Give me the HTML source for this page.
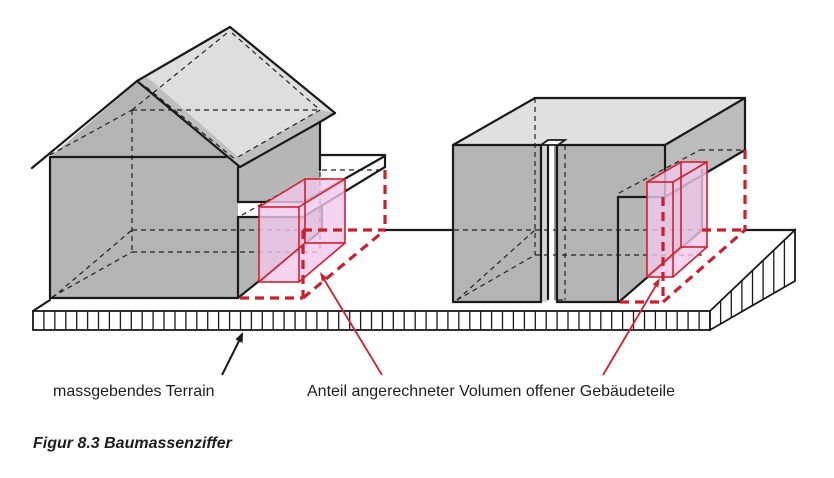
<!DOCTYPE html>
<html><head><meta charset="utf-8"><style>
html,body{margin:0;padding:0;background:#fff;}
svg{display:block;}
text{font-family:"Liberation Sans",Arial,sans-serif;}
</style></head><body>
<svg width="834" height="478" viewBox="0 0 834 478" xmlns="http://www.w3.org/2000/svg">
<rect width="834" height="478" fill="#fff"/>

<!-- platform top -->
<polygon points="33,311 132,230 795,230 710,311" fill="#fff"/>

<!-- ================= LEFT HOUSE ================= -->
<!-- front wall + gable -->
<polygon points="50,298 50,157 137,82 238,167 238,298" fill="#b4b4b4"/>
<!-- upper side region -->
<polygon points="238,167 320,122 320,192 302,202 238,202" fill="#b6b6b6"/>
<!-- lower side wall -->
<polygon points="238,217 303,217 322,206 322,230 238,298" fill="#b6b6b6"/>
<!-- slab -->
<polygon points="320,155 385,155 385,167 303,217 238,217 238,202 302,202 320,192" fill="#fff"/>
<!-- roof -->
<polygon points="137,81 230,27 335,113 320,122 240,167" fill="#bfbfbf"/>
<polygon points="146,76 230,27 335,113 320,110 238,157" fill="#dedede"/>

<!-- hidden dashed lines left -->
<g stroke="#222" stroke-width="1.2" stroke-dasharray="5,4" fill="none">
  <line x1="50" y1="155" x2="132" y2="110"/>
  <line x1="132" y1="110" x2="227" y2="33"/>
  <line x1="232" y1="33" x2="320" y2="110"/>
  <line x1="132" y1="110" x2="320" y2="110"/>
  <line x1="238" y1="157" x2="320" y2="110"/>
  <line x1="146" y1="87" x2="236" y2="160"/>
  <line x1="132" y1="110" x2="132" y2="252"/>
  <line x1="132" y1="252" x2="322" y2="252"/>
  <line x1="52" y1="297" x2="132" y2="252"/>
  <line x1="52" y1="298" x2="132" y2="230"/>
  <line x1="132" y1="230" x2="303" y2="230"/>
  <line x1="320" y1="172" x2="320" y2="252"/>
  <line x1="322" y1="170" x2="385" y2="170"/>
  <line x1="242" y1="215" x2="305" y2="180"/>
</g>

<!-- solid lines left house -->
<g stroke="#1a1a1a" stroke-width="2.2" fill="none" stroke-linecap="round">
  <line x1="32" y1="168" x2="137" y2="81"/>
  <line x1="137" y1="81" x2="230" y2="27"/>
  <line x1="230" y1="27" x2="335" y2="113"/>
  <line x1="335" y1="113" x2="320" y2="122"/>
  <line x1="320" y1="122" x2="240" y2="167"/>
  <line x1="137" y1="81" x2="240" y2="167"/>
  <line x1="50" y1="157" x2="50" y2="298"/>
  <line x1="50" y1="298" x2="238" y2="298"/>
  <line x1="50" y1="157" x2="226" y2="157"/>
  <line x1="238" y1="167" x2="238" y2="202"/>
  <line x1="238" y1="217" x2="238" y2="298"/>
  <line x1="238" y1="202" x2="302" y2="202"/>
  <line x1="320" y1="122" x2="320" y2="170"/>
  <line x1="320" y1="155" x2="385" y2="155"/>
  <line x1="385" y1="155" x2="385" y2="167"/>
  <line x1="385" y1="156" x2="302" y2="203"/>
  <line x1="385" y1="167" x2="303" y2="217"/>
  <line x1="238" y1="217" x2="303" y2="217"/>
  <line x1="238" y1="298" x2="322" y2="230"/>
  <line x1="322" y1="206" x2="322" y2="230"/>
  <line x1="33" y1="311" x2="50" y2="300"/>
  <line x1="385" y1="230" x2="454" y2="230"/>
</g>

<!-- ================= RIGHT BUILDING ================= -->
<polygon points="453,145 535,98 745,98 665,145" fill="#e0e0e0"/>
<polygon points="453,145 665,145 665,197 618,197 618,302 453,302" fill="#b4b4b4"/>
<polygon points="665,145 745,98 745,150 665,197" fill="#bcbcbc"/>
<polygon points="618,197 665,197 702,176 702,230 620,301" fill="#b6b6b6"/>
<rect x="541" y="145" width="16" height="157" fill="#fff"/>
<rect x="541" y="145" width="7" height="157" fill="#d6d6d6"/>

<g stroke="#222" stroke-width="1.2" stroke-dasharray="5,4" fill="none">
  <line x1="535" y1="98" x2="535" y2="255"/>
  <line x1="535" y1="255" x2="702" y2="255"/>
  <line x1="454" y1="230" x2="702" y2="230"/>
  <line x1="457" y1="300" x2="535" y2="230"/>
  <line x1="457" y1="300" x2="535" y2="255"/>
  <line x1="565" y1="145" x2="565" y2="300"/>
  <line x1="558" y1="300" x2="565" y2="300"/>
  <line x1="619" y1="193" x2="700" y2="150"/>
  <line x1="700" y1="150" x2="745" y2="150"/>
</g>

<g stroke="#1a1a1a" stroke-width="2.2" fill="none" stroke-linecap="round">
  <line x1="453" y1="145" x2="535" y2="98"/>
  <line x1="535" y1="98" x2="745" y2="98"/>
  <line x1="745" y1="98" x2="665" y2="145"/>
  <line x1="453" y1="145" x2="541" y2="145"/>
  <line x1="557" y1="145" x2="665" y2="145"/>
  <line x1="453" y1="145" x2="453" y2="302"/>
  <line x1="453" y1="302" x2="541" y2="302"/>
  <line x1="557" y1="302" x2="620" y2="302"/>
  <line x1="541" y1="145" x2="541" y2="302"/>
  <line x1="548" y1="142" x2="548" y2="299"/>
  <line x1="557" y1="143" x2="557" y2="302"/>
  <line x1="665" y1="145" x2="665" y2="197"/>
  <line x1="618" y1="197" x2="665" y2="197"/>
  <line x1="618" y1="197" x2="618" y2="302"/>
  <line x1="745" y1="98" x2="745" y2="150"/>
  <line x1="745" y1="150" x2="665" y2="197"/>
  <line x1="702" y1="170" x2="702" y2="230"/>
  <line x1="620" y1="301" x2="702" y2="230"/>
  <line x1="745" y1="230" x2="795" y2="230"/>
</g>
<line x1="555" y1="145" x2="555" y2="300" stroke="#333" stroke-width="1"/>
<polygon points="541,145 548,140 565,140 558,145" fill="#fff" stroke="#1a1a1a" stroke-width="1.8"/>

<!-- ================= TERRAIN BASE ================= -->
<rect x="33" y="311" width="677" height="19" fill="#fff" stroke="#1a1a1a" stroke-width="1.8"/>
<g stroke="#1a1a1a" stroke-width="1.3">
<line x1="43.9" y1="311" x2="43.9" y2="330"/><line x1="54.8" y1="311" x2="54.8" y2="330"/><line x1="65.8" y1="311" x2="65.8" y2="330"/><line x1="76.7" y1="311" x2="76.7" y2="330"/><line x1="87.6" y1="311" x2="87.6" y2="330"/><line x1="98.5" y1="311" x2="98.5" y2="330"/><line x1="109.4" y1="311" x2="109.4" y2="330"/><line x1="120.4" y1="311" x2="120.4" y2="330"/><line x1="131.3" y1="311" x2="131.3" y2="330"/><line x1="142.2" y1="311" x2="142.2" y2="330"/>
<line x1="153.1" y1="311" x2="153.1" y2="330"/><line x1="164" y1="311" x2="164" y2="330"/><line x1="175" y1="311" x2="175" y2="330"/><line x1="185.9" y1="311" x2="185.9" y2="330"/><line x1="196.8" y1="311" x2="196.8" y2="330"/><line x1="207.7" y1="311" x2="207.7" y2="330"/><line x1="218.6" y1="311" x2="218.6" y2="330"/><line x1="229.6" y1="311" x2="229.6" y2="330"/><line x1="240.5" y1="311" x2="240.5" y2="330"/><line x1="251.4" y1="311" x2="251.4" y2="330"/>
<line x1="262.3" y1="311" x2="262.3" y2="330"/><line x1="273.2" y1="311" x2="273.2" y2="330"/><line x1="284.1" y1="311" x2="284.1" y2="330"/><line x1="295.1" y1="311" x2="295.1" y2="330"/><line x1="306" y1="311" x2="306" y2="330"/><line x1="316.9" y1="311" x2="316.9" y2="330"/><line x1="327.8" y1="311" x2="327.8" y2="330"/><line x1="338.7" y1="311" x2="338.7" y2="330"/><line x1="349.7" y1="311" x2="349.7" y2="330"/><line x1="360.6" y1="311" x2="360.6" y2="330"/>
<line x1="371.5" y1="311" x2="371.5" y2="330"/><line x1="382.4" y1="311" x2="382.4" y2="330"/><line x1="393.3" y1="311" x2="393.3" y2="330"/><line x1="404.2" y1="311" x2="404.2" y2="330"/><line x1="415.2" y1="311" x2="415.2" y2="330"/><line x1="426.1" y1="311" x2="426.1" y2="330"/><line x1="437" y1="311" x2="437" y2="330"/><line x1="447.9" y1="311" x2="447.9" y2="330"/><line x1="458.8" y1="311" x2="458.8" y2="330"/><line x1="469.8" y1="311" x2="469.8" y2="330"/>
<line x1="480.7" y1="311" x2="480.7" y2="330"/><line x1="491.6" y1="311" x2="491.6" y2="330"/><line x1="502.5" y1="311" x2="502.5" y2="330"/><line x1="513.4" y1="311" x2="513.4" y2="330"/><line x1="524.4" y1="311" x2="524.4" y2="330"/><line x1="535.3" y1="311" x2="535.3" y2="330"/><line x1="546.2" y1="311" x2="546.2" y2="330"/><line x1="557.1" y1="311" x2="557.1" y2="330"/><line x1="568" y1="311" x2="568" y2="330"/><line x1="579" y1="311" x2="579" y2="330"/>
<line x1="589.9" y1="311" x2="589.9" y2="330"/><line x1="600.8" y1="311" x2="600.8" y2="330"/><line x1="611.7" y1="311" x2="611.7" y2="330"/><line x1="622.6" y1="311" x2="622.6" y2="330"/><line x1="633.5" y1="311" x2="633.5" y2="330"/><line x1="644.5" y1="311" x2="644.5" y2="330"/><line x1="655.4" y1="311" x2="655.4" y2="330"/><line x1="666.3" y1="311" x2="666.3" y2="330"/><line x1="677.2" y1="311" x2="677.2" y2="330"/><line x1="688.1" y1="311" x2="688.1" y2="330"/><line x1="699.1" y1="311" x2="699.1" y2="330"/>
</g>
<polygon points="710,311 795,230 795,281 710,330" fill="#fff" stroke="#1a1a1a" stroke-width="1.8"/>
<g stroke="#1a1a1a" stroke-width="1.3">
<line x1="720.6" y1="300.9" x2="720.6" y2="323.9"/>
<line x1="731.3" y1="290.7" x2="731.3" y2="317.7"/>
<line x1="741.9" y1="280.6" x2="741.9" y2="311.6"/>
<line x1="752.5" y1="270.5" x2="752.5" y2="305.5"/>
<line x1="763.1" y1="260.4" x2="763.1" y2="299.4"/>
<line x1="773.8" y1="250.2" x2="773.8" y2="293.3"/>
<line x1="784.4" y1="240.1" x2="784.4" y2="287.1"/>
</g>

<!-- ================= PINK VOLUMES ================= -->
<g fill="#f0c8ec" fill-opacity="0.8" stroke="none">
  <polygon points="259,207 305,179 345,179 345,243 299,282 259,282"/>
  <polygon points="647,182 681,162 707,162 707,247 673,277 647,277"/>
</g>
<g stroke="#d3202c" stroke-width="1.6" fill="none">
  <rect x="305" y="179" width="40" height="64"/>
  <rect x="259" y="207" width="40" height="75"/>
  <line x1="259" y1="207" x2="305" y2="179"/>
  <line x1="299" y1="207" x2="345" y2="179"/>
  <line x1="299" y1="282" x2="345" y2="243"/>
  <line x1="259" y1="282" x2="305" y2="243"/>
  <rect x="681" y="162" width="26" height="85"/>
  <rect x="647" y="182" width="26" height="95"/>
  <line x1="647" y1="182" x2="681" y2="162"/>
  <line x1="673" y1="182" x2="707" y2="162"/>
  <line x1="673" y1="277" x2="707" y2="247"/>
  <line x1="647" y1="277" x2="681" y2="247"/>
</g>

<!-- red dashed footprints -->
<g stroke="#cc1e2b" stroke-width="3.2" stroke-dasharray="9,6" fill="none">
  <line x1="240" y1="298" x2="303" y2="298"/>
  <line x1="303" y1="298" x2="385" y2="230"/>
  <line x1="303" y1="230" x2="303" y2="298"/>
  <line x1="303" y1="230" x2="385" y2="230"/>
  <line x1="385" y1="170" x2="385" y2="230"/>
  <line x1="620" y1="302" x2="663" y2="302"/>
  <line x1="663" y1="197" x2="663" y2="302"/>
  <line x1="663" y1="302" x2="745" y2="230"/>
  <line x1="745" y1="150" x2="745" y2="230"/>
  <line x1="702" y1="230" x2="745" y2="230"/>
</g>

<!-- arrows -->
<line x1="222" y1="375" x2="241" y2="337" stroke="#1a1a1a" stroke-width="2"/>
<polygon points="243,332 242.6,343 235.4,339.4" fill="#1a1a1a"/>
<line x1="382" y1="375" x2="322" y2="276" stroke="#d3202c" stroke-width="1.8"/>
<polygon points="320,272 327.4,278.4 321.8,281.4" fill="#d3202c"/>
<line x1="603" y1="375" x2="658" y2="282" stroke="#d3202c" stroke-width="1.8"/>
<polygon points="660,278 658.2,287.6 652.6,284.4" fill="#d3202c"/>

<!-- labels -->
<text x="53" y="396" font-size="16" fill="#1e1e1e">massgebendes Terrain</text>
<text x="307" y="396" font-size="16" fill="#1e1e1e">Anteil angerechneter Volumen offener Gebäudeteile</text>
<text x="33" y="448" font-size="16" font-weight="bold" font-style="italic" fill="#1e1e1e">Figur 8.3 Baumassenziffer</text>
</svg>
</body></html>
